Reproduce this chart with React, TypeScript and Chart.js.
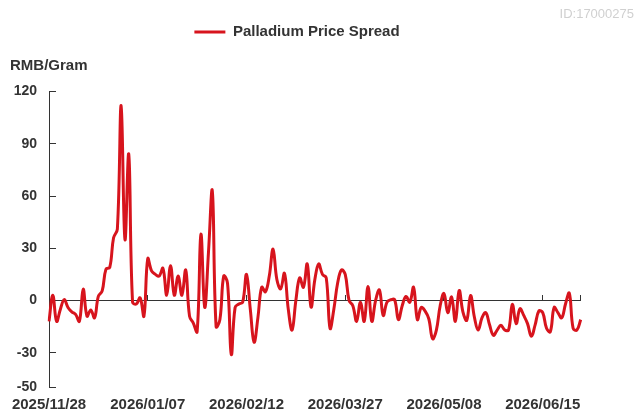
import React, { useEffect, useRef } from 'react';
import { Chart, registerables } from 'chart.js';

Chart.register(...registerables);

// Trading days shown on the category axis (month prefix + day numbers)
const tradingMonths: [string, number[]][] = [
  ['2025/11', [28]],
  ['2025/12', [1, 2, 3, 4, 5, 8, 9, 10, 11, 12, 15, 16, 17, 18, 19, 22, 23, 24, 25, 26, 29, 30, 31]],
  ['2026/01', [5, 6, 7, 8, 9, 12, 13, 14, 15, 16, 19, 20, 21, 22, 23, 26, 27, 28, 29, 30]],
  ['2026/02', [2, 3, 4, 5, 6, 9, 10, 11, 12, 13, 23, 24, 25, 26, 27]],
  ['2026/03', [2, 3, 4, 5, 6, 9, 10, 11, 12, 13, 16, 17, 18, 19, 20, 23, 24, 25, 26, 27, 30, 31]],
  ['2026/04', [1, 2, 3, 7, 8, 9, 10, 13, 14, 15, 16, 17, 20, 21, 22, 23, 24, 27, 28, 29, 30]],
  ['2026/05', [6, 7, 8, 11, 12, 13, 14, 15, 18, 19, 20, 21, 22, 25, 26, 27, 28, 29]],
  ['2026/06', [1, 2, 3, 4, 5, 8, 9, 10, 11, 12, 15, 16, 17, 18, 22, 23, 24, 25, 26, 29, 30]],
];
const categories: string[] = tradingMonths.flatMap(([m, days]) =>
  days.map((d) => `${m}/${String(d).padStart(2, '0')}`)
);

// Palladium price spread, RMB/Gram
const spreadValues: number[] = [
  -12, 3, -12, -5, 0.5, -4, -6.5, -8, -12, 6.5,
  -9, -5.5, -10, 2.5, 5.5, 18, 19, 36, 41, 112,
  35, 84, -1, -2, 1.5, -9, 24, 17, 15, 14,
  18.5, 3, 20, 3, 14, 3, 17.5, -9, -13, -18,
  38, -4, 28, 63, -15, -11, 14, 10, -31, -4,
  -2, -1, 15, -5, -24, -10, 7.6, 5, 14, 29.5,
  12, 6.7, 15.6, -5, -17, 0, 13, 7.6, 21, -3.8,
  12, 21, 15, 13, -16, -5, 10, 17.5, 15, 0,
  -3, -12, -1, -12, 8, -12, 0, 6, -8.6, -1,
  0.4, 0.5, -11, -3, 2.3, -1, 7.6, -11, -4, -6,
  -10.5, -22, -17, -3, 4, -7, 2, -12, 5.7, -6.7,
  -11.4, 2.9, -9.5, -17, -10, -7, -14, -20, -17, -14.3,
  -17, -17, -2.3, -13.3, -4.8, -8.6, -13.3, -20.6, -14, -6,
  -7, -16, -18, -4, -7, -10, -2, 4.2, -16, -17,
  -11,
];

const yTickValues: number[] = [-50, -30, 0, 30, 60, 90, 120];
const xLabelStep = 26;
const seriesName = 'Palladium Price Spread';
const unitLabel = 'RMB/Gram';
const chartId = 'ID:17000275';

const FONT = "'Liberation Sans', Arial, sans-serif";
const TEXT = '#333333';
const RED = '#d7141d';

const boxShift = {
  id: 'boxShift',
  afterLayout(chart: any) {
    const lg = chart.legend;
    if (lg) lg.right = lg.right - 40;
    (chart.boxes || []).forEach((b: any) => {
      if (b && b.options && b.options.text === unitLabel) {
        b.left += 10;
        b.right += 10;
      }
    });
  },
};

export default function App() {
  const ref = useRef<HTMLCanvasElement | null>(null);

  useEffect(() => {
    if (!ref.current) return;
    const lastIndex = categories.length - 1;
    const chart = new Chart(ref.current, {
      type: 'line',
      data: {
        labels: categories,
        datasets: [
          {
            label: seriesName,
            data: spreadValues,
            borderColor: RED,
            backgroundColor: RED,
            borderWidth: 3,
            pointRadius: 0,
            pointHoverRadius: 0,
            pointBorderColor: RED,
            pointBorderWidth: 3,
            tension: 0.4,
            fill: false,
            xAxisID: 'x',
            yAxisID: 'y',
          },
        ],
      },
      options: {
        responsive: false,
        animation: false,
        layout: { padding: 0, autoPadding: false },
        plugins: {
          tooltip: { enabled: false },
          title: {
            display: true,
            text: chartId,
            align: 'end',
            color: '#d0d0d0',
            font: { family: FONT, size: 13, weight: 'normal' },
            padding: { top: 7, bottom: 0 },
          },
          legend: {
            display: true,
            position: 'top',
            labels: {
              usePointStyle: true,
              pointStyle: 'line',
              pointStyleWidth: 31,
              color: TEXT,
              font: { family: FONT, size: 15, weight: 'bold' },
              padding: 2,
            },
          },
          subtitle: {
            display: true,
            text: unitLabel,
            align: 'start',
            weight: 500,
            color: TEXT,
            font: { family: FONT, size: 15, weight: 'bold' },
            padding: { top: 7, bottom: 17 },
          },
        } as any,
        scales: {
          x: {
            type: 'category',
            position: 'bottom',
            grid: { display: false, drawTicks: false },
            border: { display: false },
            ticks: {
              autoSkip: false,
              maxRotation: 0,
              minRotation: 0,
              padding: 8,
              color: TEXT,
              font: { family: FONT, size: 15, weight: 'bold' },
              callback: (_v: any, i: number) => (i % xLabelStep === 0 ? categories[i] : null),
            },
            afterFit: (s: any) => {
              s.height = 23.5;
            },
          },
          x2: {
            type: 'category',
            position: { y: 0 },
            grid: {
              display: true,
              drawOnChartArea: false,
              drawTicks: true,
              tickLength: -6,
              tickWidth: 1,
              tickColor: (ctx: any) =>
                ctx.index % xLabelStep === 0 || ctx.index === lastIndex ? TEXT : 'rgba(0,0,0,0)',
            },
            border: { display: true, color: TEXT, width: 1 },
            ticks: { display: false },
          },
          y: {
            type: 'linear',
            position: 'left',
            min: -50,
            max: 120,
            afterBuildTicks: (s: any) => {
              s.ticks = yTickValues.map((v) => ({ value: v }));
            },
            grid: {
              display: true,
              drawOnChartArea: false,
              drawTicks: true,
              tickLength: -7,
              tickColor: TEXT,
              color: TEXT,
            },
            border: { display: true, color: TEXT, width: 1 },
            ticks: {
              padding: 19,
              color: TEXT,
              font: { family: FONT, size: 14, weight: 'bold' },
            },
            afterFit: (s: any) => {
              s.width = 49;
              s.paddingTop = 8;
              s.paddingBottom = 8;
            },
          },
          yR: {
            type: 'linear',
            position: 'right',
            display: true,
            grid: { display: false },
            border: { display: false },
            ticks: { display: false },
            afterFit: (s: any) => {
              s.width = 53.3;
              s.paddingTop = 0;
              s.paddingBottom = 0;
            },
          },
        } as any,
      },
      plugins: [boxShift],
    });
    return () => chart.destroy();
  }, []);

  return (
    <div style={{ position: 'absolute', left: 0, top: 0, width: 634, height: 411, background: '#fff' }}>
      <canvas ref={ref} width={634} height={411} style={{ display: 'block' }} />
    </div>
  );
}
